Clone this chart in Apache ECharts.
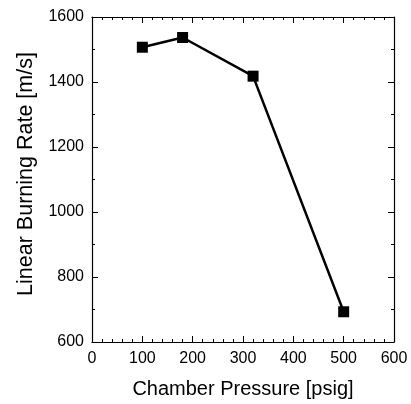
<!DOCTYPE html>
<html>
<head>
<meta charset="utf-8">
<script src="https://cdn.jsdelivr.net/npm/echarts@6/dist/echarts.min.js"></script>
<style>
  html, body { margin: 0; padding: 0; background: #fff; }
  #chart { width: 411px; height: 404px; }
</style>
</head>
<body>
<div id="chart"></div>
<script>
// Chamber pressure (psig) vs linear burning rate (m/s)
const pressure = [100, 180, 320, 500];
const burningRate = [1507, 1537, 1418, 693];
const xTicks = [0, 100, 200, 300, 400, 500, 600];
const yTicks = [600, 800, 1000, 1200, 1400, 1600];

const FONT = 'Liberation Sans, Arial, sans-serif';
const points = pressure.map((p, i) => [p, burningRate[i]]);

// One side of the boxed frame: inward major + minor ticks
function frameAxis(extra, splitNumber, labelMargin) {
  return Object.assign({
    type: 'value',
    axisLine: { show: true, onZero: false, lineStyle: { color: '#000', width: 1.2 } },
    axisTick: { show: true, inside: true, length: 6, lineStyle: { color: '#000', width: 1 } },
    minorTick: { show: true, splitNumber: splitNumber, length: 3, lineStyle: { color: '#000', width: 1 } },
    splitLine: { show: false },
    axisLabel: labelMargin == null ? { show: false } : {
      show: true, color: '#000', fontFamily: FONT, fontSize: 16, margin: labelMargin,
      formatter: v => String(v)
    }
  }, extra);
}

const chart = echarts.init(document.getElementById('chart'), null, { renderer: 'canvas' });
chart.setOption({
  animation: false,
  backgroundColor: '#fff',
  grid: { left: 92, right: 17, top: 17, bottom: 60 },
  xAxis: [
    frameAxis({
      min: xTicks[0], max: xTicks[xTicks.length - 1], interval: 100, position: 'bottom',
      name: 'Chamber Pressure [psig]', nameLocation: 'middle', nameGap: 37,
      nameTextStyle: { color: '#000', fontFamily: FONT, fontSize: 20 }
    }, 5, 9),
    frameAxis({
      min: xTicks[0], max: xTicks[xTicks.length - 1], interval: 100, position: 'top'
    }, 5, null)
  ],
  yAxis: [
    frameAxis({
      min: yTicks[0], max: yTicks[yTicks.length - 1], interval: 200, position: 'left',
      name: 'Linear Burning Rate [m/s]', nameLocation: 'middle', nameGap: 54, nameRotate: 90,
      nameTextStyle: { color: '#000', fontFamily: FONT, fontSize: 21.5, padding: [0, 0, 0, 11] }
    }, 2, 8),
    frameAxis({
      min: yTicks[0], max: yTicks[yTicks.length - 1], interval: 200, position: 'right'
    }, 2, null)
  ],
  series: [{
    type: 'line',
    data: points,
    xAxisIndex: 0,
    yAxisIndex: 0,
    symbol: 'rect',
    symbolSize: 11,
    lineStyle: { color: '#000', width: 2.5 },
    itemStyle: { color: '#000' }
  }]
});
</script>
</body>
</html>
